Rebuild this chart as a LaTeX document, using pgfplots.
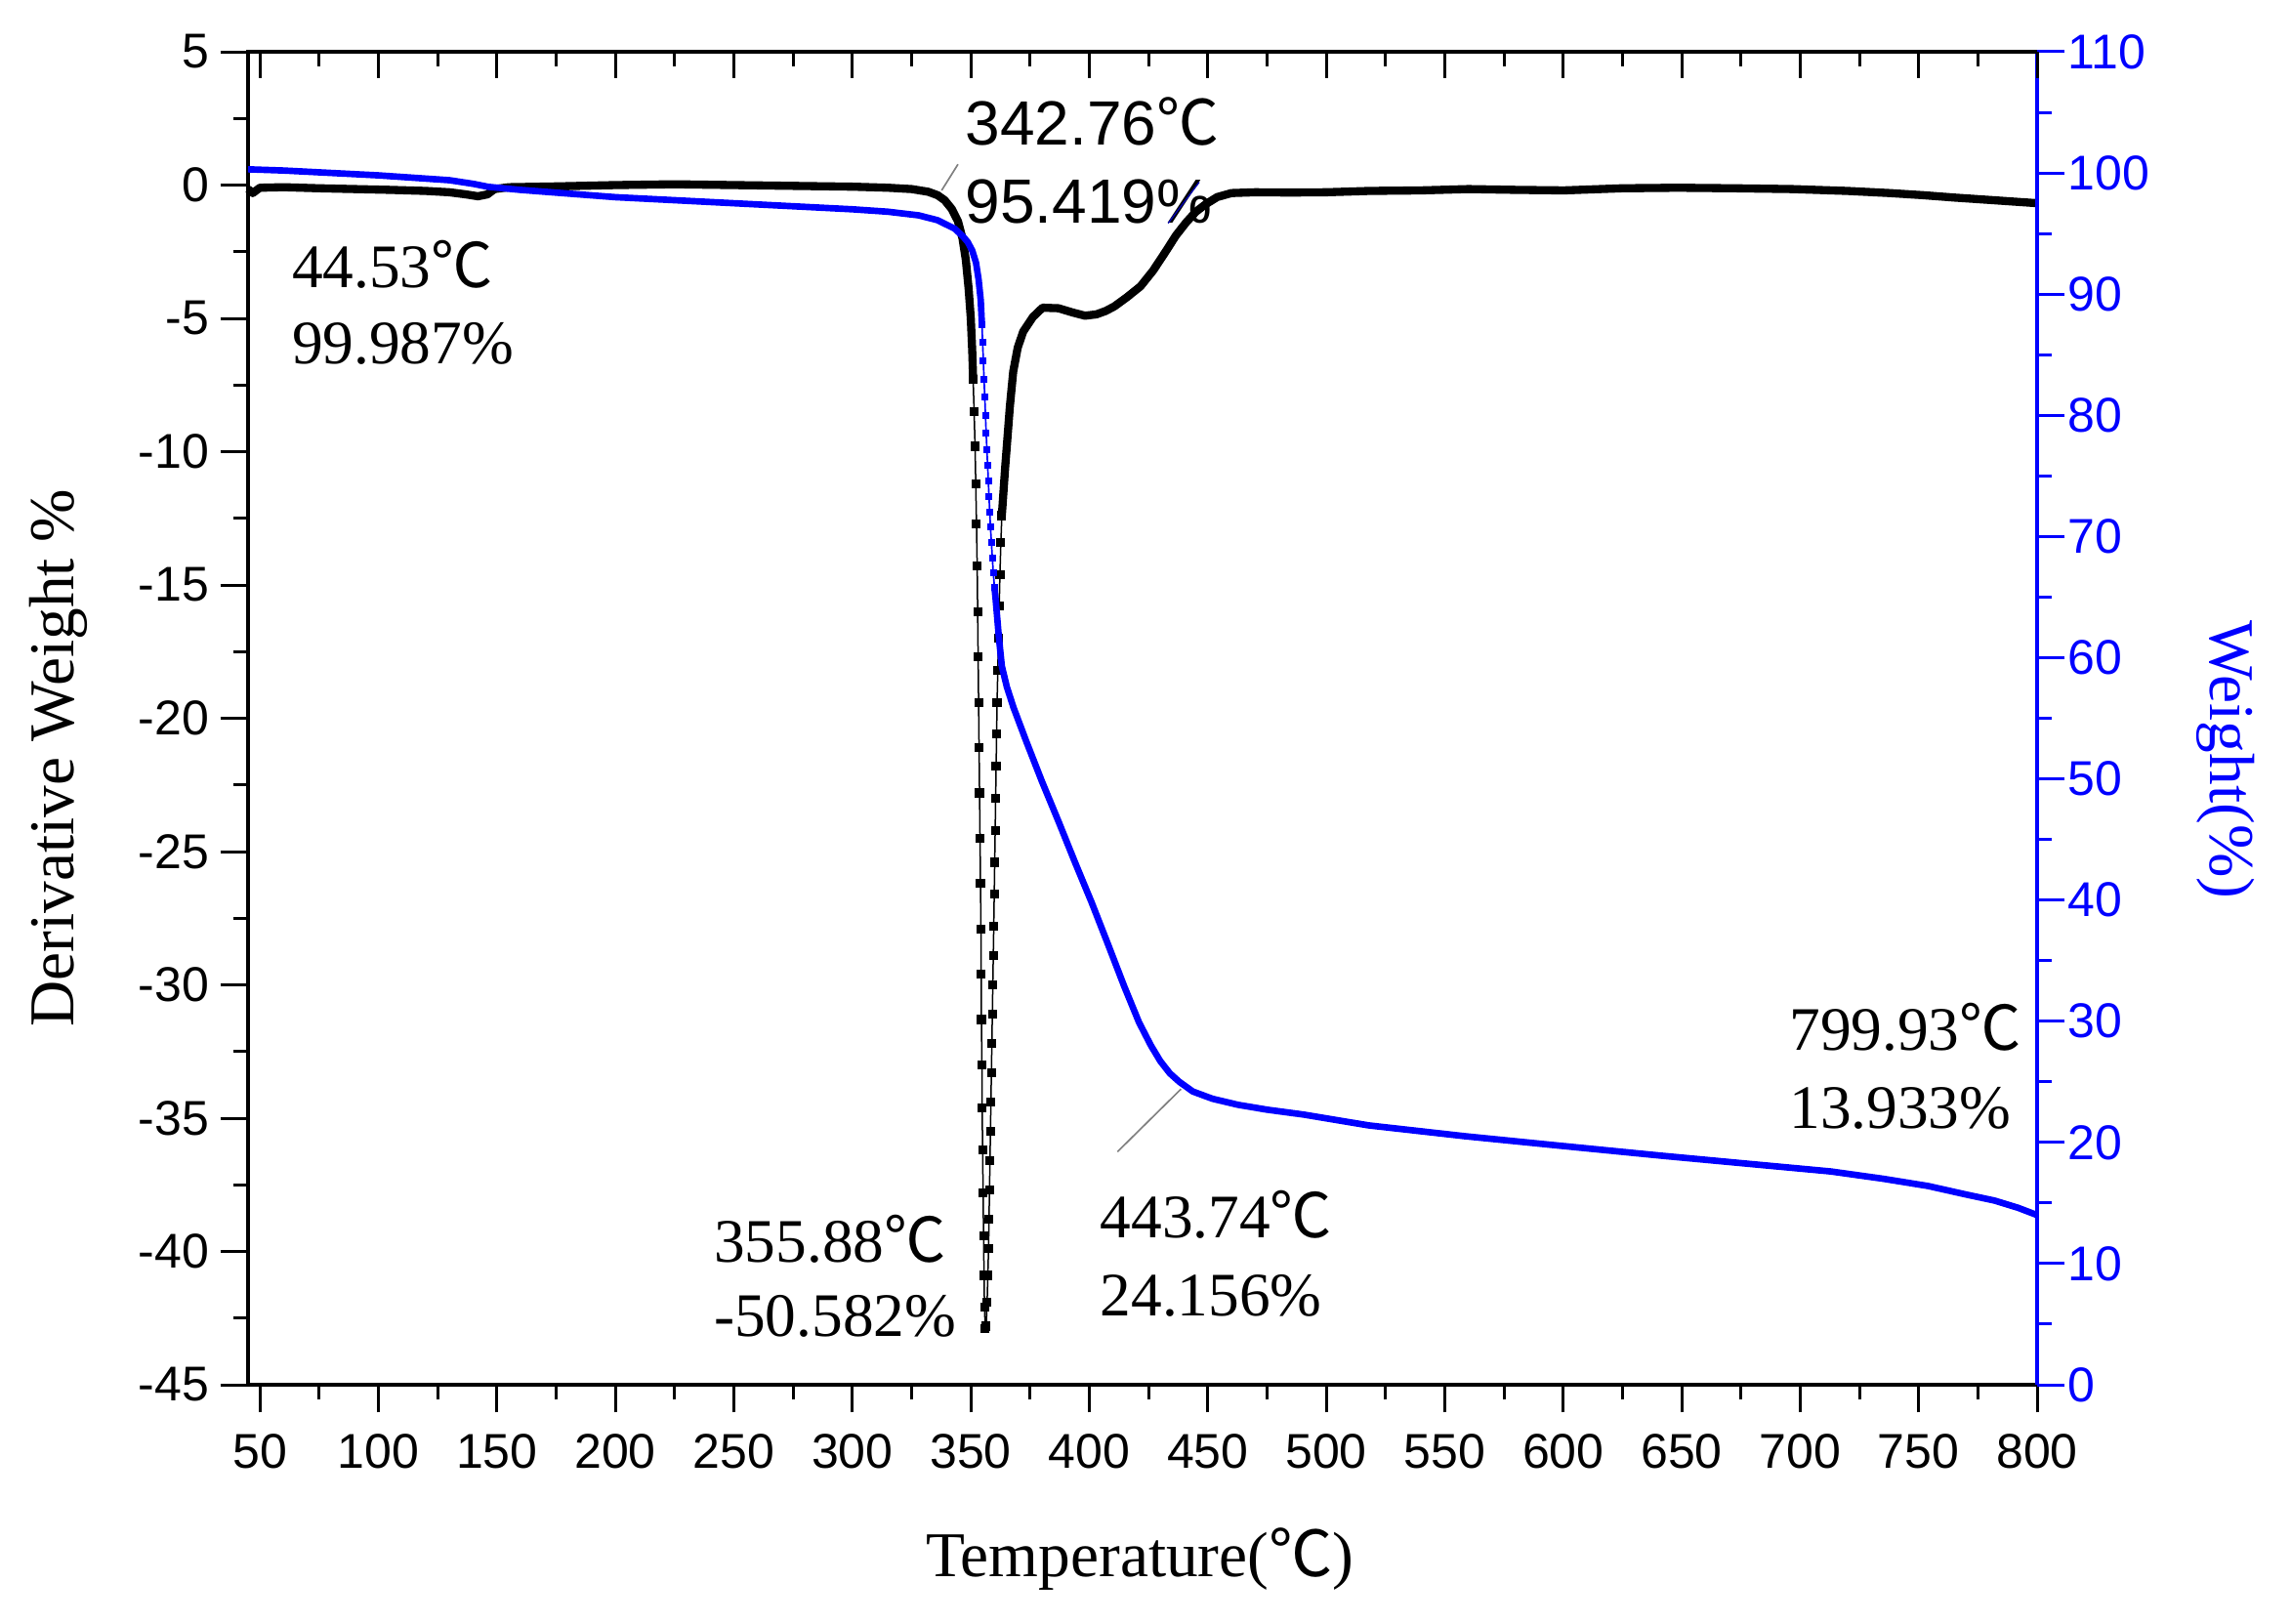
\documentclass[border=0pt]{standalone}
\usepackage{fontspec}
\setmainfont{Liberation Serif}
\newfontfamily\arial{Liberation Sans}
\newfontfamily\cjk{Noto Sans CJK SC}
\usepackage{pgfplots}
\pgfplotsset{compat=1.18}
\newcommand{\degC}{{\cjk ℃}}
\newcommand{\annot}{\fontsize{19}{19}\selectfont}
\newcommand{\annotsans}{\arial\fontsize{19.2}{19.2}\selectfont}
\newcommand{\ticksz}{\arial\fontsize{15}{15}\selectfont}
\newcommand{\labsz}{\fontsize{19.6}{19.6}\selectfont}

\pgfplotsset{base/.style={scale only axis, width=549.6pt, height=409.5pt,
  xmin=45, xmax=800, at={(0pt,0pt)}, anchor=south west,
  major tick length=8.5pt, minor tick length=4.6pt,
  /pgf/number format/assume math mode=true,
  tick label style={font=\ticksz}, clip=false}}

\begin{document}
\begin{tikzpicture}
% ---------- left axis: derivative weight ----------
\begin{axis}[base, ymin=-45, ymax=5,
  xtick={50,100,...,800}, minor x tick num=1,
  ytick={-45,-40,...,5}, minor y tick num=1,
  tick align=outside, xtick pos=bottom, ytick pos=left,
  xticklabel style={yshift=-3pt},
  axis line style={line width=1.1pt},
  tick style={black, line width=0.9pt}]
\addplot[black, line width=2.5pt, line join=round] table {
45 -0.15
47 -0.3
50 -0.1
60 -0.08
75 -0.12
90 -0.15
105 -0.18
120 -0.22
130 -0.27
137 -0.35
142 -0.42
146 -0.35
149 -0.15
155 -0.08
175 -0.05
200 0.0
225 0.03
250 0.0
275 -0.03
300 -0.06
315 -0.1
325 -0.15
332 -0.25
336 -0.38
339 -0.57
342 -0.9
344.6 -1.36
346.5 -2.0
347.9 -2.8
349.1 -3.9
350.0 -5.0
350.6 -6.2
351.0 -7.3
};
\addplot[black, line width=0.45pt, mark=square*, mark size=1.15pt] table {
351.0 -7.3
351.4 -8.5
351.8 -9.8
352.1 -11.2
352.4 -12.7
352.7 -14.3
352.9 -16.0
353.1 -17.7
353.3 -19.4
353.5 -21.1
353.7 -22.8
353.9 -24.5
354.1 -26.2
354.3 -27.9
354.4 -29.6
354.5 -31.3
354.7 -33.0
354.8 -34.6
355.0 -36.2
355.2 -37.8
355.4 -39.4
355.6 -40.9
355.8 -42.1
356.1 -42.9
356.5 -42.8
356.9 -41.9
357.2 -40.9
357.5 -39.9
357.7 -38.8
357.9 -37.7
358.1 -36.6
358.3 -35.5
358.5 -34.4
358.7 -33.3
358.9 -32.2
359.1 -31.1
359.3 -30.0
359.5 -28.9
359.7 -27.8
359.9 -26.6
360.1 -25.4
360.3 -24.2
360.5 -23.0
360.7 -21.8
360.9 -20.6
361.1 -19.4
361.4 -18.2
361.7 -17.0
362.0 -15.8
362.3 -14.6
362.7 -13.4
363.1 -12.4
};
\addplot[black, line width=2.5pt, line join=round] table {
363.1 -12.4
363.8 -11.5
364.5 -10.6
365.2 -9.8
366.5 -8.3
367.9 -7.0
369.8 -6.1
372.1 -5.5
376.2 -4.95
380.3 -4.6
387 -4.62
393 -4.78
398.2 -4.9
403 -4.85
407 -4.72
410.6 -4.55
416 -4.2
421.6 -3.8
427 -3.2
432.5 -2.46
436.5 -1.9
440.9 -1.4
445 -1.0
449.1 -0.72
454 -0.45
460 -0.3
470 -0.27
485 -0.28
500 -0.27
518 -0.22
540 -0.2
560 -0.15
580 -0.18
600.3 -0.2
625 -0.12
648.4 -0.1
672 -0.12
696.5 -0.15
720 -0.22
737.8 -0.3
752 -0.38
765.3 -0.47
782 -0.57
800 -0.68
};
% annotations
\node[anchor=base west, inner sep=0, font=\annot] at (axis cs:63.3,-3.86) {44.53\degC};
\node[anchor=base west, inner sep=0, font=\annot] at (axis cs:63.3,-6.72) {99.987\%};
\node[anchor=base west, inner sep=0, font=\annotsans] at (axis cs:347.5,1.52) {342.76\degC};
\node[anchor=base west, inner sep=0, font=\annotsans] at (axis cs:347.5,-1.41) {95.419\%};
\node[anchor=base west, inner sep=0, font=\annot] at (axis cs:241.4,-40.4) {355.88\degC};
\node[anchor=base west, inner sep=0, font=\annot] at (axis cs:241.4,-43.2) {-50.582\%};
\node[anchor=base west, inner sep=0, font=\annot] at (axis cs:404.4,-39.47) {443.74\degC};
\node[anchor=base west, inner sep=0, font=\annot] at (axis cs:404.4,-42.41) {24.156\%};
\node[anchor=base west, inner sep=0, font=\annot] at (axis cs:695.2,-32.47) {799.93\degC};
\node[anchor=base west, inner sep=0, font=\annot] at (axis cs:695.2,-35.4) {13.933\%};
\draw[gray, line width=0.5pt] (axis cs:344.6,0.78) -- (axis cs:337.7,-0.2);
\draw[gray, line width=0.5pt] (axis cs:411.9,-36.26) -- (axis cs:438.7,-33.91);
\draw[blue!70!black, line width=0.4pt] (axis cs:433.3,-1.43) -- (axis cs:446.4,0.11);
\end{axis}
% ---------- right axis: weight ----------
\begin{axis}[base, ymin=0, ymax=110,
  axis y line*=right, axis x line=none,
  ytick={0,10,...,110}, minor y tick num=1,
  tick align=outside,
  y axis line style={blue, line width=1.2pt},
  tick style={blue, line width=0.9pt},
  tick label style={text=blue},
  yticklabel style={xshift=-2.5pt}]
\addplot[blue, line width=2pt, line join=round] table {
45 100.3
60 100.2
80 100.0
100 99.8
115 99.6
130 99.4
140 99.1
146.5 98.85
160 98.6
180 98.3
200 98.0
230 97.7
270 97.3
300 97.0
315 96.8
328 96.5
336 96.1
343.2 95.4
346.5 94.8
348.7 94.3
350.6 93.6
352.2 92.6
353.3 91.2
354.2 89.5
354.7 87.5
};
\addplot[blue, line width=0.5pt, mark=square*, mark size=0.8pt] table {
354.7 87.5
355.0 86.0
355.3 84.5
355.6 83.0
355.9 81.5
356.2 80.0
356.5 78.5
356.8 77.2
357.1 75.9
357.4 74.6
357.7 73.3
358.0 72.0
358.3 70.8
358.7 69.5
359.1 68.2
359.5 67.0
360.0 65.8
};
\addplot[blue, line width=2pt, line join=round] table {
360.0 65.8
360.5 64.8
361.8 61.8
363.1 59.3
365.2 57.6
368.0 55.9
373.4 53.1
380 49.8
387.2 46.4
394 43.1
401 39.8
408 36.3
414.7 32.9
421 29.9
426 28.0
430 26.7
434 25.7
438 25.0
443.7 24.2
452 23.6
462.8 23.1
475 22.7
490.3 22.3
518 21.4
559 20.5
600 19.7
641.6 18.9
680 18.2
713 17.6
735 17.0
754 16.4
770 15.7
782 15.2
792 14.6
800 14.0
};
\end{axis}
% ---------- top axis: inward ticks ----------
\begin{axis}[base, ymin=0, ymax=1,
  axis x line*=top, axis y line=none,
  xtick={50,100,...,800}, minor x tick num=1, xticklabels={},
  tick align=inside, major tick length=8.1pt, minor tick length=4.5pt,
  axis line style={line width=1.1pt},
  tick style={black, line width=0.9pt}]
\end{axis}
% ---------- labels ----------
\node[anchor=base, inner sep=0, font=\labsz] at (274pt,-59pt) {Temperature(\degC)};
\node[anchor=base, inner sep=0, rotate=90, font=\labsz] at (-53.7pt,192.5pt) {Derivative Weight \%};
\node[anchor=base, inner sep=0, rotate=-90, font=\labsz, text=blue] at (602.7pt,192.1pt) {Weight(\%)};
\pgfresetboundingbox
\path[use as bounding box] (-76.2pt,-73.2pt) rectangle (627.6pt,425.4pt);
\end{tikzpicture}
\end{document}
